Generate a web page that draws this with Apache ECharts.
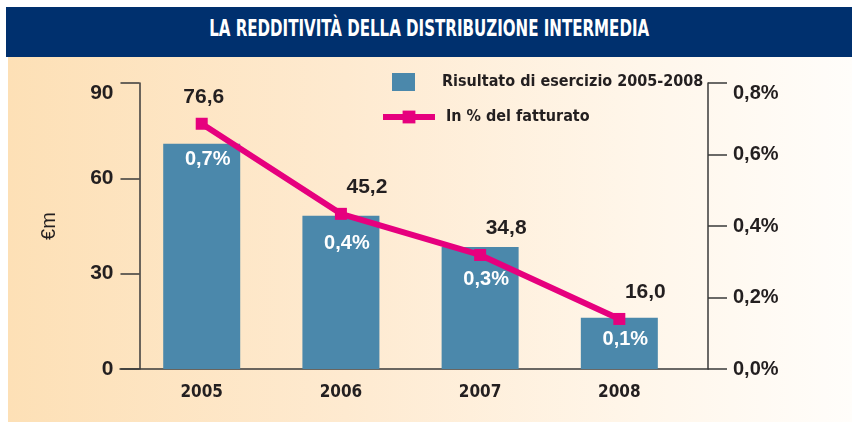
<!DOCTYPE html>
<html>
<head>
<meta charset="utf-8">
<script src="https://cdn.jsdelivr.net/npm/echarts@6/dist/echarts.min.js"></script>
<style>
  html, body { margin: 0; padding: 0; background: #fff; }
  #wrap { position: relative; width: 852px; height: 422px; overflow: hidden; }
  #bg {
    position: absolute; left: 8px; top: 56px; right: 0; bottom: 0;
    background: linear-gradient(to right, #fde0b6 0%, #feead0 40%, #fff6ea 75%, #fffdfa 100%);
  }
  #header {
    position: absolute; left: 6px; top: 7px; width: 846px; height: 50px;
    background: #00306e; text-align: center; line-height: 42px;
  }
  #header span {
    display: inline-block; color: #fff; font-size: 23px; font-weight: bold;
    font-family: 'Liberation Sans Narrow', 'DejaVu Sans Condensed', 'Liberation Sans', sans-serif;
    transform-origin: center center; white-space: nowrap;
  }
  #chart { position: absolute; left: 0; top: 0; width: 852px; height: 422px; }
</style>
</head>
<body>
<div id="wrap">
  <div id="bg"></div>
  <div id="header"><span id="title">LA REDDITIVITÀ DELLA DISTRIBUZIONE INTERMEDIA</span></div>
  <div id="chart"></div>
</div>
<script>
const years = ['2005', '2006', '2007', '2008']
// bar heights as drawn in the picture (€m)
const resultValues = [70.9, 48.2, 38.4, 16.1]
const resultLabels = ['76,6', '45,2', '34,8', '16,0']
// line points as drawn (% of turnover)
const pctValues = [0.686, 0.434, 0.319, 0.140]
const pctLabels = ['0,7%', '0,4%', '0,3%', '0,1%']
const leftTicks = ['0', '30', '60', '90']
const rightTicks = ['0,0%', '0,2%', '0,4%', '0,6%', '0,8%']

const barName = 'Risultato di esercizio 2005-2008'
const lineName = 'In % del fatturato'

const BLUE = '#4b88ab'
const PINK = '#e6007e'
const INK = '#231f20'
const NARROW = "'Liberation Sans Narrow', 'DejaVu Sans Condensed', 'Liberation Sans', sans-serif"
const SANS = "'Liberation Sans', Arial, sans-serif"

// squeeze the title into its condensed width
const t = document.getElementById('title')
const w = t.getBoundingClientRect().width
t.style.transform = 'scaleX(' + (440 / w) + ')'

const chart = echarts.init(document.getElementById('chart'), null, { renderer: 'canvas' })

// the percent labels inside the bars don't sit at the same depth in the original
const pctLabelOffset = (i) => [6, [-7, 5, 10, -1][i]]

const option = {
  backgroundColor: 'transparent',
  animation: false,
  grid: { left: 120, right: 144, top: 83, bottom: 53 },
  legend: [
    {
      data: [barName],
      icon: 'rect',
      left: 392, top: 73, padding: 0,
      itemWidth: 23, itemHeight: 18,
      textStyle: { fontFamily: NARROW, fontWeight: 'bold', fontSize: 16, color: INK, padding: [0, 0, 0, 22] }
    },
    {
      data: [lineName],
      left: 380, top: 109, padding: 0,
      itemWidth: 52, itemHeight: 16,
      lineStyle: { width: 6 },
      textStyle: { fontFamily: NARROW, fontWeight: 'bold', fontSize: 16, color: INK, padding: [0, 0, 0, 6] }
    }
  ],
  xAxis: {
    type: 'value',
    min: 0.413,
    max: 4.637,
    splitLine: { show: false },
    axisTick: { show: false },
    axisLine: { show: true, lineStyle: { color: '#3a3a3a', width: 1.5 } },
    axisLabel: {
      customValues: [1, 2, 3, 4],
      formatter: (v) => years[Math.round(v) - 1],
      margin: 15,
      fontFamily: NARROW, fontWeight: 'bold', fontSize: 17, color: INK
    }
  },
  yAxis: [
    {
      type: 'value',
      position: 'left',
      offset: -19.5,
      min: 0, max: 90, interval: 30,
      splitLine: { show: false },
      axisLine: { show: true, lineStyle: { color: '#3a3a3a', width: 1.5 } },
      axisTick: { show: true, length: 19, lineStyle: { color: '#3a3a3a', width: 1.5 } },
      axisLabel: {
        margin: 26,
        formatter: (v, i) => leftTicks[i],
        fontFamily: SANS, fontWeight: 'bold', fontSize: 21, color: INK,
        verticalAlignMaxLabel: 'top'
      },
      name: '€m',
      nameLocation: 'middle',
      nameRotate: 90,
      nameGap: 80,
      nameTextStyle: { fontFamily: SANS, fontSize: 20, color: INK }
    },
    {
      type: 'value',
      position: 'right',
      min: 0, max: 0.8, interval: 0.2,
      splitLine: { show: false },
      axisLine: { show: true, lineStyle: { color: '#3a3a3a', width: 1.5 } },
      axisTick: { show: true, length: 19, lineStyle: { color: '#3a3a3a', width: 1.5 } },
      axisLabel: {
        margin: 25,
        formatter: (v, i) => rightTicks[i],
        fontFamily: SANS, fontWeight: 'bold', fontSize: 20, color: INK,
        verticalAlignMaxLabel: 'top'
      }
    }
  ],
  series: [
    {
      name: barName,
      type: 'bar',
      yAxisIndex: 0,
      barWidth: 77,
      itemStyle: { color: BLUE },
      data: resultValues.map((v, i) => ({ value: [i + 1, v], label: { offset: pctLabelOffset(i) } })),
      label: {
        show: true,
        position: 'insideTop',
        distance: 13,
        formatter: (p) => pctLabels[p.dataIndex],
        fontFamily: SANS, fontWeight: 'bold', fontSize: 20, color: '#fff'
      }
    },
    {
      name: lineName,
      type: 'line',
      yAxisIndex: 1,
      symbol: 'rect',
      symbolSize: 12,
      z: 5,
      lineStyle: { color: PINK, width: 6 },
      itemStyle: { color: PINK },
      data: pctValues.map((v, i) => i === 0
        ? { value: [i + 1, v], label: { offset: [2, 0] } }
        : [i + 1, v]),
      label: {
        show: true,
        position: 'top',
        distance: 10,
        offset: [26, 0],
        formatter: (p) => resultLabels[p.dataIndex],
        fontFamily: SANS, fontWeight: 'bold', fontSize: 21, color: INK
      }
    }
  ]
}

chart.setOption(option)
</script>
</body>
</html>
